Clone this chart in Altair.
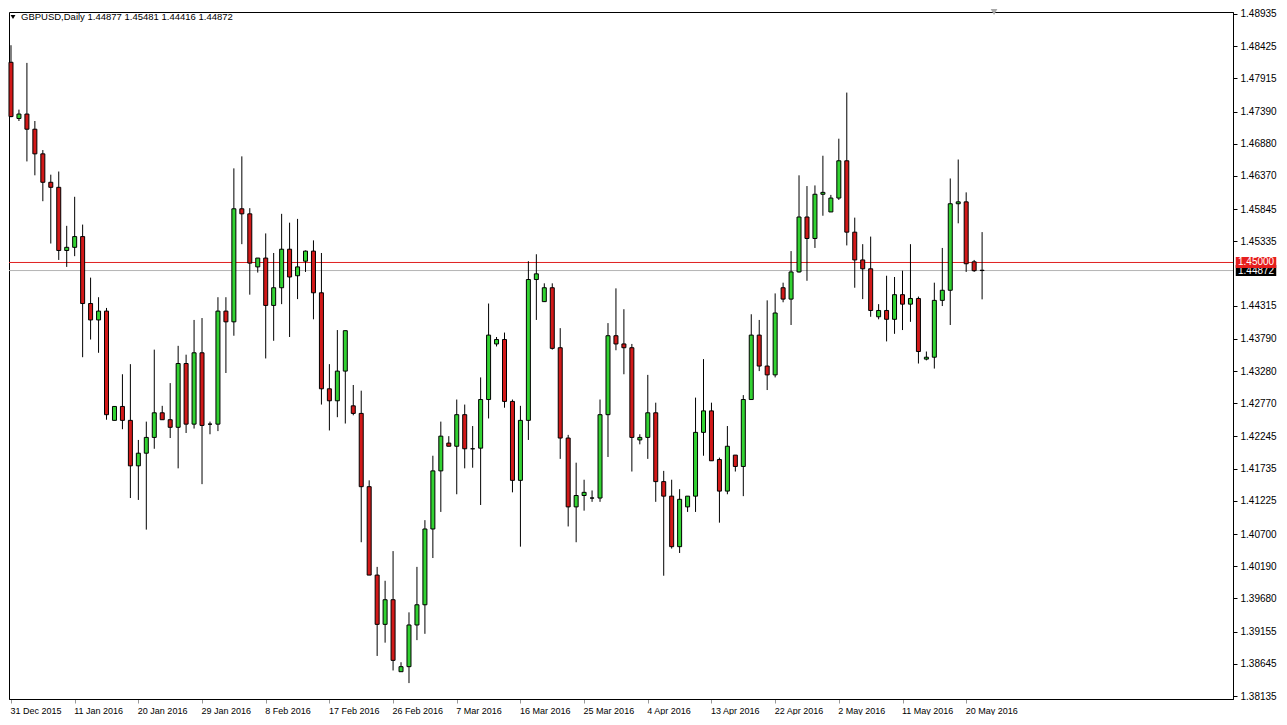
import altair as alt
import pandas as pd
import numpy as np

# ---- data (GBPUSD daily candles) ----
opens = [1.4817, 1.4728, 1.4735, 1.4711, 1.4672, 1.4627, 1.4619, 1.4519, 1.4524, 1.4541,
         1.4435, 1.4409, 1.4423, 1.4250, 1.4272, 1.4250, 1.4178, 1.4198, 1.4223, 1.4262,
         1.4251, 1.4239, 1.4340, 1.4244, 1.4357, 1.4244, 1.4244, 1.4423, 1.4406, 1.4585,
         1.4577, 1.4493, 1.4507, 1.4432, 1.4460, 1.4521, 1.4479, 1.4502, 1.4518, 1.4452,
         1.4300, 1.4281, 1.4328, 1.4273, 1.4261, 1.4145, 1.4005, 1.3927, 1.3966, 1.3852,
         1.3860, 1.3926, 1.3958, 1.4078, 1.4170, 1.4214, 1.4209, 1.4259, 1.4205, 1.4206,
         1.4283, 1.4371, 1.4378, 1.4280, 1.4155, 1.4250, 1.4473, 1.4438, 1.4460, 1.4365,
         1.4222, 1.4113, 1.4131, 1.4127, 1.4127, 1.4259, 1.4384, 1.4371, 1.4365, 1.4219,
         1.4223, 1.4262, 1.4153, 1.4130, 1.4050, 1.4113, 1.4130, 1.4231, 1.4265, 1.4188,
         1.4138, 1.4195, 1.4177, 1.4283, 1.4385, 1.4336, 1.4322, 1.4460, 1.4442, 1.4485,
         1.4572, 1.4538, 1.4608, 1.4580, 1.4602, 1.4661, 1.4548, 1.4504, 1.4490, 1.4414,
         1.4424, 1.4410, 1.4449, 1.4434, 1.4443, 1.4347, 1.4350, 1.4440, 1.4456, 1.4593,
         1.4596, 1.4501, 1.44877]
highs = [1.4844, 1.4742, 1.4816, 1.4724, 1.4678, 1.4639, 1.4644, 1.4558, 1.4604, 1.4560,
         1.4476, 1.4445, 1.4428, 1.4272, 1.4323, 1.4339, 1.4219, 1.4248, 1.4362, 1.4273,
         1.4309, 1.4368, 1.4354, 1.4409, 1.4412, 1.4248, 1.4445, 1.4445, 1.4649, 1.4668,
         1.4586, 1.4507, 1.4546, 1.4515, 1.4577, 1.4563, 1.4569, 1.4519, 1.4535, 1.4515,
         1.4339, 1.4393, 1.4392, 1.4306, 1.4297, 1.4155, 1.4018, 1.3996, 1.4043, 1.3867,
         1.3946, 1.4018, 1.4092, 1.4194, 1.4248, 1.4225, 1.4283, 1.4275, 1.4241, 1.4318,
         1.4435, 1.4382, 1.4389, 1.4283, 1.4273, 1.4502, 1.4513, 1.4467, 1.4467, 1.4396,
         1.4227, 1.4183, 1.4156, 1.4139, 1.4283, 1.4404, 1.4459, 1.4426, 1.4371, 1.4228,
         1.4322, 1.4278, 1.4170, 1.4156, 1.4141, 1.4130, 1.4286, 1.4347, 1.4278, 1.4191,
         1.4241, 1.4195, 1.4290, 1.4418, 1.4409, 1.4440, 1.4451, 1.4468, 1.4518, 1.4638,
         1.4621, 1.4622, 1.4669, 1.4607, 1.4696, 1.4769, 1.4571, 1.4529, 1.4541, 1.4434,
         1.4479, 1.4477, 1.4487, 1.4529, 1.4446, 1.4359, 1.4468, 1.4523, 1.4633, 1.4663,
         1.4611, 1.4504, 1.45481]
lows = [1.4730, 1.4724, 1.4660, 1.4638, 1.4597, 1.4530, 1.4504, 1.4493, 1.4510, 1.4350,
        1.4378, 1.4357, 1.4251, 1.4250, 1.4236, 1.4127, 1.4124, 1.4077, 1.4205, 1.4251,
        1.4222, 1.4174, 1.4230, 1.4237, 1.4149, 1.4228, 1.4233, 1.4325, 1.4384, 1.4529,
        1.4449, 1.4484, 1.4348, 1.4376, 1.4434, 1.4382, 1.4442, 1.4485, 1.4410, 1.4275,
        1.4234, 1.4255, 1.4245, 1.4258, 1.4057, 1.4005, 1.3877, 1.3898, 1.3854, 1.3852,
        1.3834, 1.3902, 1.3912, 1.4032, 1.4105, 1.4209, 1.4133, 1.4174, 1.4175, 1.4116,
        1.4253, 1.4367, 1.4270, 1.4136, 1.4050, 1.4219, 1.4409, 1.4438, 1.4362, 1.4189,
        1.4082, 1.4057, 1.4107, 1.4121, 1.4121, 1.4192, 1.4361, 1.4323, 1.4169, 1.4212,
        1.4189, 1.4121, 1.4004, 1.4047, 1.4040, 1.4105, 1.4105, 1.4194, 1.4186, 1.4088,
        1.4133, 1.4169, 1.4130, 1.4283, 1.4328, 1.4298, 1.4318, 1.4437, 1.4401, 1.4484,
        1.4471, 1.4523, 1.4574, 1.4580, 1.4599, 1.4527, 1.4460, 1.4442, 1.4414, 1.4410,
        1.4375, 1.4387, 1.4393, 1.4406, 1.4340, 1.4345, 1.4332, 1.4431, 1.4401, 1.4562,
        1.4485, 1.4485, 1.44416]
closes = [1.4731, 1.4735, 1.4711, 1.4672, 1.4627, 1.4619, 1.4519, 1.4524, 1.4541, 1.4435,
          1.4409, 1.4423, 1.4259, 1.4272, 1.4250, 1.4178, 1.4198, 1.4223, 1.4262, 1.4251,
          1.4239, 1.4340, 1.4244, 1.4357, 1.4242, 1.4244, 1.4423, 1.4406, 1.4585, 1.4577,
          1.4499, 1.4507, 1.4432, 1.4460, 1.4521, 1.4477, 1.4493, 1.4518, 1.4452, 1.4300,
          1.4281, 1.4328, 1.4392, 1.4261, 1.4145, 1.4005, 1.3927, 1.3966, 1.3870, 1.3860,
          1.3926, 1.3958, 1.4078, 1.4170, 1.4225, 1.4209, 1.4259, 1.4205, 1.4205, 1.4283,
          1.4385, 1.4378, 1.4280, 1.4155, 1.4250, 1.4473, 1.4482, 1.4460, 1.4364, 1.4222,
          1.4113, 1.4131, 1.4136, 1.4127, 1.4259, 1.4384, 1.4371, 1.4365, 1.4223, 1.4223,
          1.4262, 1.4153, 1.4130, 1.4050, 1.4125, 1.4130, 1.4231, 1.4265, 1.4186, 1.4138,
          1.4209, 1.4177, 1.4283, 1.4385, 1.4336, 1.4322, 1.4420, 1.4442, 1.4485, 1.4572,
          1.4538, 1.4608, 1.4611, 1.4602, 1.4661, 1.4548, 1.4504, 1.4490, 1.4424, 1.4424,
          1.4410, 1.4449, 1.4434, 1.4443, 1.4359, 1.4350, 1.4440, 1.4456, 1.4593, 1.4596,
          1.4498, 1.4487, 1.44872]

date_labels = ["31 Dec 2015", "11 Jan 2016", "20 Jan 2016", "29 Jan 2016", "8 Feb 2016",
               "17 Feb 2016", "26 Feb 2016", "7 Mar 2016", "16 Mar 2016", "25 Mar 2016",
               "4 Apr 2016", "13 Apr 2016", "22 Apr 2016", "2 May 2016", "11 May 2016",
               "20 May 2016"]
date_label_bars = [0, 8, 16, 24, 32, 40, 48, 56, 64, 72, 80, 88, 96, 104, 112, 120]

price_ticks = [1.48935, 1.48425, 1.47915, 1.47390, 1.46880, 1.46370, 1.45845, 1.45335,
               1.44315, 1.43790, 1.43280, 1.42770, 1.42245, 1.41735, 1.41225, 1.40700,
               1.40190, 1.39680, 1.39155, 1.38645, 1.38135]

alert_price = [1.45000]
alert_label = ["1.45000"]
bid_price = [1.44872]
bid_label = ["1.44872"]

title_text = "GBPUSD,Daily  1.44877 1.45481 1.44416 1.44872"

# ---- frame ----
n = len(opens)
df = pd.DataFrame({"i": np.arange(n), "open": opens, "high": highs,
                   "low": lows, "close": closes})
df["dir"] = np.where(df["close"] > df["open"], "up",
                     np.where(df["close"] < df["open"], "down", "flat"))

alert_df = pd.DataFrame({"price": alert_price, "label": alert_label})
bid_df = pd.DataFrame({"price": bid_price, "label": bid_label})

W, H = 1224, 687
GREEN = "#32d232"
RED = "#d21919"

xscale = alt.Scale(domain=[-0.25, 153.52], nice=False, zero=False, padding=0)
yscale = alt.Scale(domain=[1.38088, 1.48966], nice=False, zero=False, padding=0)

label_expr = "{" + ",".join(f"'{b}':'{s}'" for b, s in zip(date_label_bars, date_labels)) + "}[datum.value]"

x_axis = alt.Axis(values=date_label_bars, labelExpr=label_expr, orient="bottom",
                  tickSize=4, tickColor="#999999", domainColor="black", labelAlign="left",
                  labelOffset=-1, labelPadding=3, labelFontSize=9, labelColor="black",
                  labelOverlap=False, labelFlush=False, grid=False, title=None)
y_axis = alt.Axis(values=price_ticks, orient="right", format=".5f", tickSize=4,
                  tickColor="black", domainColor="black", labelPadding=3,
                  labelFontSize=10, labelColor="black", labelOverlap=False,
                  grid=False, title=None)

X = lambda f: alt.X(f, scale=xscale, axis=x_axis)
Y = lambda f: alt.Y(f, scale=yscale, axis=y_axis)


def level_layers(data, line_color, box_color):
    line = alt.Chart(data).mark_rule(strokeWidth=1, color=line_color).encode(y=Y("price:Q"))
    box = alt.Chart(data).mark_point(
        shape="M-1,-0.27L1,-0.27L1,0.27L-1,0.27Z", size=1640, filled=True, opacity=1,
        color=box_color
    ).encode(x=alt.value(W + 23), y=Y("price:Q"))
    txt = alt.Chart(data).mark_text(align="left", baseline="middle", fontSize=10,
                                    color="white").encode(
        x=alt.value(W + 5), y=Y("price:Q"), text="label:N")
    return line, box, txt


a_line, a_box, a_txt = level_layers(alert_df, "#e02020", "#e61e1e")
b_line, b_box, b_txt = level_layers(bid_df, "#b4b4b4", "#000000")

wicks = alt.Chart(df).mark_rule(color="black", strokeWidth=1).encode(
    x=X("i:Q"), y=Y("low:Q"), y2="high:Q",
)

bodies = alt.Chart(df).mark_bar(size=4, stroke="black", strokeWidth=1).encode(
    x=X("i:Q"), y=Y("open:Q"), y2="close:Q",
    fill=alt.Fill("dir:N", scale=alt.Scale(domain=["up", "down", "flat"],
                                            range=[GREEN, RED, "black"]), legend=None),
)

title_df = pd.DataFrame({"t": [title_text]})
title_mark = alt.Chart(title_df).mark_text(align="left", baseline="middle", fontSize=9.5,
                                           color="black").encode(
    x=alt.value(12), y=alt.value(5), text="t:N")
title_arrow = alt.Chart(title_df).mark_point(shape="triangle-down", filled=True,
                                             color="black", size=24, opacity=1).encode(
    x=alt.value(4), y=alt.value(5))
shift_marker = alt.Chart(title_df).mark_point(shape="triangle-down", filled=True,
                                              color="#a8a8a8", size=45, opacity=1).encode(
    x=alt.datum(123.5, scale=xscale, axis=x_axis), y=alt.value(0))

chart = alt.layer(b_line, a_line, wicks, bodies, b_box, b_txt, a_box, a_txt,
                  title_mark, title_arrow, shift_marker).properties(
    width=W, height=H, background="white",
    padding={"left": 0, "top": 0, "right": 2, "bottom": 0},
).configure(font="Liberation Sans").configure_view(stroke="black", strokeWidth=1)

chart.save("out.html", embed_options={"renderer": "svg", "actions": False})
